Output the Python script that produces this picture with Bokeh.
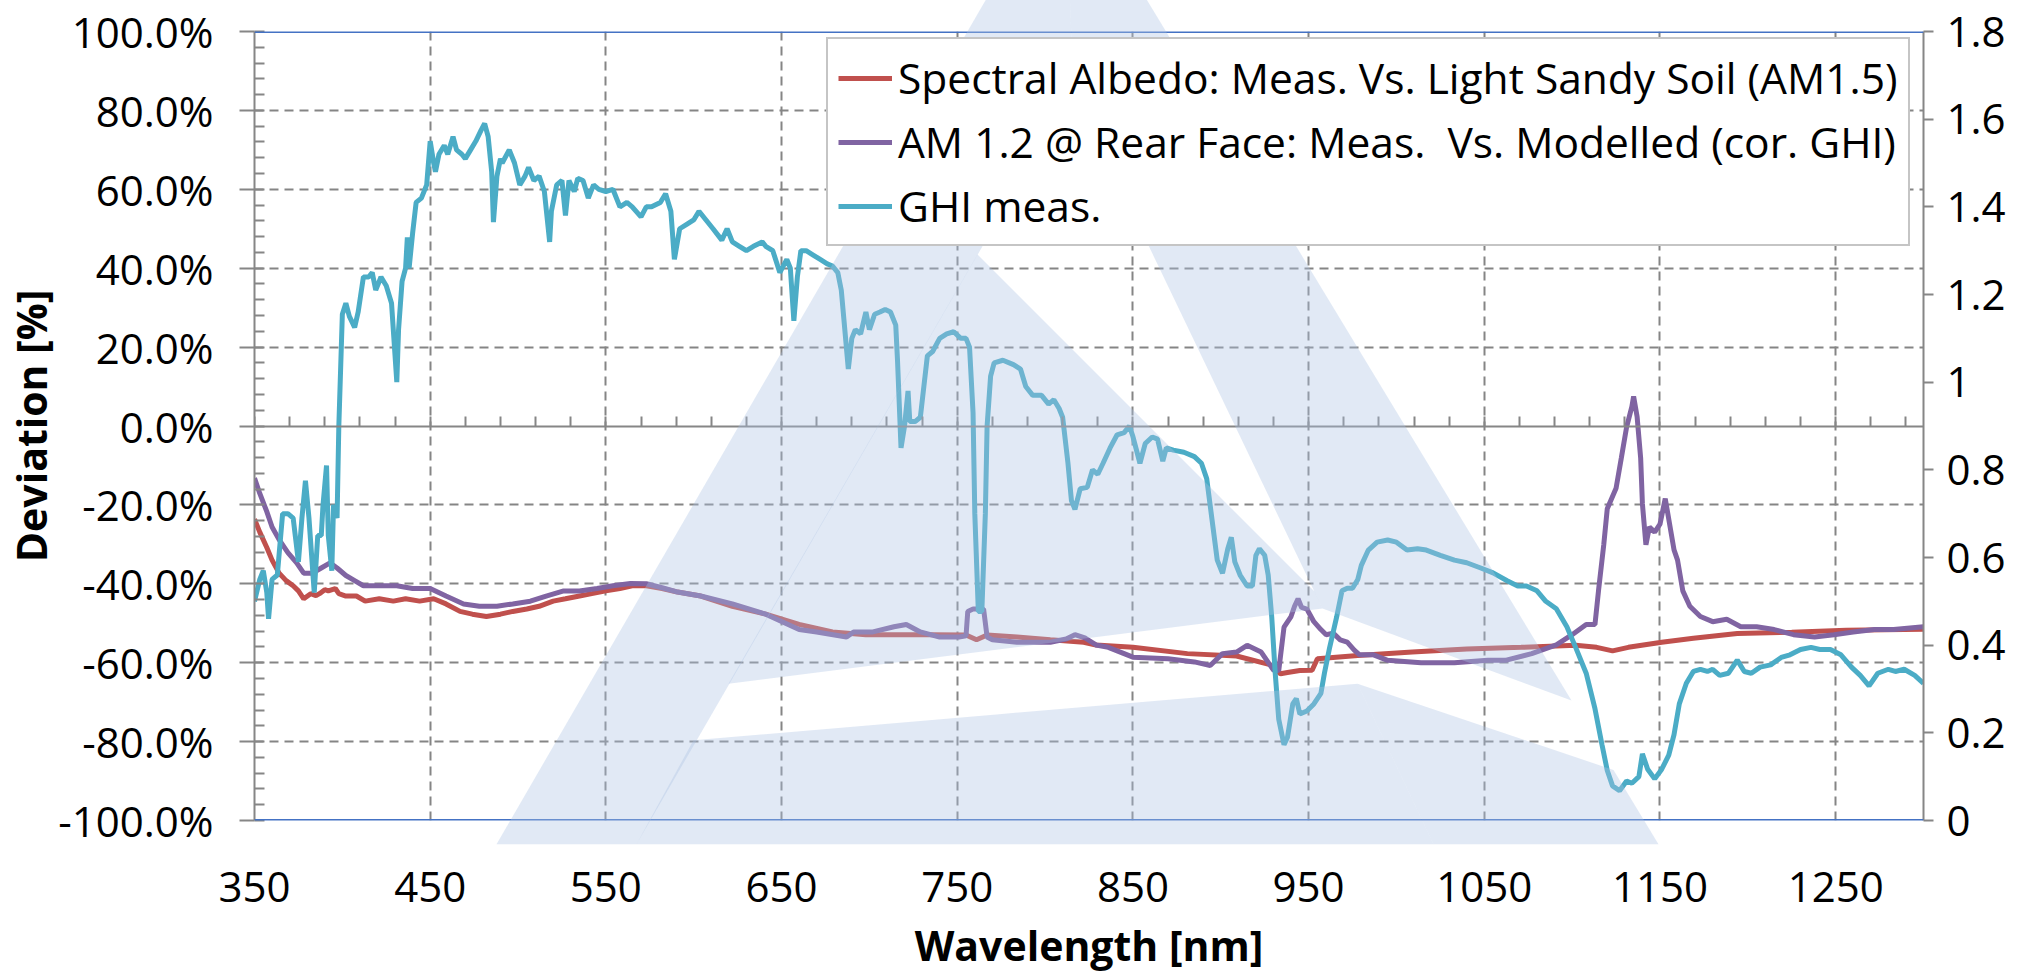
import numpy as np
from bokeh.plotting import figure
from bokeh.models import (Range1d, LinearAxis, FixedTicker, PrintfTickFormatter, CustomJSTickFormatter,
                          Legend, LegendItem, Span, Grid)
from bokeh.embed import file_html
from bokeh.resources import INLINE

# ---------------- data ----------------
x_tick_values = [350, 450, 550, 650, 750, 850, 950, 1050, 1150, 1250]
x_tick_labels = ["350", "450", "550", "650", "750", "850", "950", "1050", "1150", "1250"]
x_minor_values = list(range(350, 1301, 20))
left_tick_values = [-100, -80, -60, -40, -20, 0, 20, 40, 60, 80, 100]
left_minor_values = list(range(-100, 101, 4))
right_tick_values = [0, 0.2, 0.4, 0.6, 0.8, 1.0, 1.2, 1.4, 1.6, 1.8]
right_tick_labels = ["0", "0.2", "0.4", "0.6", "0.8", "1", "1.2", "1.4", "1.6", "1.8"]

series_names = [
    "Spectral Albedo: Meas. Vs. Light Sandy Soil (AM1.5)",
    "AM 1.2 @ Rear Face: Meas.  Vs. Modelled (cor. GHI)",
    "GHI meas.",
]

albedo_nm = [350, 353, 357, 360, 364, 368, 372, 375, 378, 382, 385, 387, 390, 392, 396, 398, 402, 408, 413,
             421, 429, 436, 444, 452, 459, 467, 474, 482, 490, 497, 505, 512, 520, 527, 535, 542, 550, 558,
             565, 573, 582, 590, 604, 622, 641, 660, 679, 698, 717, 736, 755, 761, 767, 784, 803, 822, 829,
             850, 881, 909, 928, 934, 938, 945, 952, 955, 978, 1009, 1040, 1071, 1102, 1114, 1123, 1132,
             1151, 1169, 1194, 1225, 1256, 1300]
albedo_dev = [-23.6, -26.9, -30.8, -34.0, -37.3, -39.2, -40.5, -41.8, -43.8, -42.5, -43.0, -42.5, -41.5, -41.8,
              -41.2, -42.5, -43.1, -43.1, -44.4, -43.8, -44.4, -43.8, -44.4, -43.8, -45.1, -47.0, -47.7, -48.3,
              -47.7, -47.0, -46.4, -45.7, -44.4, -43.8, -43.1, -42.5, -41.8, -41.2, -40.5, -40.5, -41.2, -42.0,
              -43.1, -45.7, -47.7, -50.3, -52.2, -52.9, -52.9, -52.9, -53.0, -54.2, -53.0, -53.5, -54.2, -54.8,
              -55.5, -56.1, -57.7, -58.3, -60.5, -62.8, -62.5, -62.0, -61.9, -59.0, -58.2, -57.3, -56.5, -56.1,
              -55.6, -56.1, -57.0, -56.1, -54.8, -53.8, -52.6, -52.3, -51.8, -51.5]

rear_nm = [350, 353, 357, 360, 364, 369, 374, 378, 383, 388, 393, 397, 402, 407, 412, 421, 431, 440, 450, 459,
           469, 478, 488, 497, 507, 516, 526, 535, 545, 554, 564, 573, 582, 590, 604, 622, 641, 660, 670, 687,
           691, 702, 714, 721, 729, 740, 751, 755, 756, 759, 765, 767, 770, 784, 803, 812, 817, 823, 829, 836,
           850, 870, 885, 894, 901, 909, 915, 923, 930, 933, 936, 940, 942, 944, 946, 949, 953, 957, 960, 964,
           968, 972, 976, 979, 987, 995, 1014, 1033, 1052, 1062, 1077, 1091, 1100, 1108, 1113, 1115, 1118,
           1120, 1125, 1128, 1131, 1134, 1135, 1137, 1139, 1140, 1142, 1144, 1147, 1150, 1153, 1155, 1158,
           1160, 1163, 1167, 1173, 1180, 1188, 1196, 1205, 1215, 1226, 1238, 1249, 1260, 1272, 1283, 1300]
rear_dev = [-13.2, -17.1, -21.7, -25.6, -28.8, -32.1, -34.7, -37.3, -37.3, -36.0, -34.7, -36.0, -37.9, -39.2,
            -40.5, -40.5, -40.5, -41.2, -41.2, -43.1, -45.1, -45.7, -45.7, -45.1, -44.4, -43.1, -41.8, -41.8,
            -41.2, -40.5, -39.9, -40.0, -41.0, -42.0, -43.1, -45.1, -47.7, -51.6, -52.2, -53.5, -52.2, -52.2,
            -50.9, -50.3, -52.2, -53.5, -53.5, -53.2, -47.0, -46.4, -46.4, -53.5, -54.2, -54.8, -54.8, -54.0,
            -52.9, -53.8, -55.5, -56.1, -58.6, -59.0, -59.8, -60.7, -57.7, -57.3, -55.6, -57.3, -61.9, -62.0,
            -51.0, -48.3, -45.7, -43.8, -46.0, -46.4, -49.6, -51.6, -52.9, -52.5, -54.2, -54.8, -56.8, -58.0,
            -58.0, -59.4, -60.0, -60.0, -59.4, -59.4, -57.7, -55.5, -52.9, -50.3, -50.3, -41.8, -30.1, -21.0,
            -15.8, -8.1, -0.3, 4.9, 7.5, 2.3, -8.1, -19.7, -30.1, -25.6, -26.9, -24.9, -18.4, -23.6, -31.4,
            -34.0, -41.8, -45.7, -48.3, -49.6, -49.0, -50.9, -50.9, -51.6, -52.9, -53.5, -52.9, -52.2, -51.6,
            -51.6, -50.9]

ghi_nm = [350, 353, 355, 357, 358, 360, 363, 366, 369, 372, 375, 377, 379, 381, 384, 386, 388, 389, 391, 392,
          394, 395, 397, 398, 400, 402, 404, 407, 409, 412, 415, 417, 419, 422, 425, 428, 431, 432, 434, 436,
          437, 438, 440, 442, 445, 448, 450, 452, 453, 455, 458, 460, 463, 465, 468, 470, 473, 476, 479, 481,
          483, 485, 486, 488, 490, 491, 495, 498, 501, 504, 506, 509, 512, 515, 518, 519, 522, 525, 527, 529,
          532, 534, 537, 540, 543, 546, 550, 554, 558, 562, 565, 570, 573, 576, 581, 584, 587, 589, 592, 596,
          600, 603, 607, 611, 616, 619, 622, 626, 630, 634, 639, 641, 645, 649, 653, 655, 657, 659, 661, 664,
          668, 672, 676, 679, 682, 684, 686, 688, 690, 692, 695, 698, 700, 703, 706, 709, 712, 715, 716, 718,
          720, 722, 723, 726, 729, 731, 733, 736, 740, 744, 748, 752, 755, 757, 759, 760, 762, 764, 766, 767,
          769, 771, 776, 782, 786, 789, 793, 798, 802, 805, 808, 810, 813, 815, 817, 820, 824, 827, 830, 833,
          837, 841, 845, 848, 850, 854, 857, 861, 864, 867, 869, 873, 879, 885, 889, 892, 895, 898, 901, 904,
          906, 908, 911, 915, 918, 920, 922, 925, 927, 929, 931, 933, 936, 938, 941, 943, 945, 949, 953, 957,
          959, 962, 966, 969, 972, 975, 978, 980, 984, 989, 995, 1000, 1006, 1012, 1017, 1025, 1033, 1040,
          1048, 1055, 1063, 1069, 1074, 1080, 1085, 1091, 1097, 1102, 1108, 1113, 1117, 1120, 1123, 1127,
          1131, 1134, 1138, 1140, 1143, 1147, 1151, 1155, 1158, 1161, 1165, 1169, 1173, 1177, 1180, 1184,
          1189, 1194, 1198, 1202, 1207, 1213, 1219, 1224, 1230, 1236, 1241, 1247, 1253, 1259, 1264, 1269,
          1274, 1280, 1284, 1289, 1295, 1300]
ghi_val = [0.50, 0.55, 0.57, 0.52, 0.46, 0.55, 0.56, 0.70, 0.70, 0.69, 0.59, 0.69, 0.775, 0.69, 0.52, 0.65,
           0.65, 0.72, 0.81, 0.65, 0.57, 0.72, 0.69, 0.90, 1.155, 1.18, 1.15, 1.125, 1.16, 1.24, 1.24, 1.25,
           1.21, 1.24, 1.22, 1.18, 1.00, 1.12, 1.23, 1.26, 1.33, 1.26, 1.34, 1.41, 1.42, 1.45, 1.55, 1.50,
           1.48, 1.52, 1.54, 1.52, 1.56, 1.53, 1.52, 1.51, 1.53, 1.55, 1.575, 1.59, 1.56, 1.48, 1.365, 1.47,
           1.51, 1.50, 1.53, 1.50, 1.45, 1.47, 1.49, 1.46, 1.47, 1.435, 1.32, 1.39, 1.45, 1.46, 1.38, 1.46,
           1.435, 1.465, 1.46, 1.42, 1.45, 1.44, 1.435, 1.44, 1.40, 1.41, 1.40, 1.377, 1.40, 1.40, 1.41, 1.43,
           1.39, 1.28, 1.35, 1.36, 1.37, 1.39, 1.37, 1.35, 1.324, 1.35, 1.32, 1.31, 1.30, 1.31, 1.32, 1.31,
           1.30, 1.25, 1.28, 1.26, 1.14, 1.24, 1.30, 1.30, 1.29, 1.28, 1.27, 1.265, 1.25, 1.21, 1.12, 1.03,
           1.10, 1.12, 1.11, 1.16, 1.12, 1.155, 1.16, 1.166, 1.16, 1.13, 1.05, 0.85, 0.90, 0.98, 0.91, 0.91,
           0.92, 0.99, 1.06, 1.07, 1.10, 1.11, 1.115, 1.10, 1.10, 1.08, 0.93, 0.70, 0.477, 0.477, 0.70, 0.90,
           1.014, 1.044, 1.05, 1.04, 1.03, 0.99, 0.97, 0.97, 0.95, 0.96, 0.94, 0.92, 0.816, 0.73, 0.71, 0.757,
           0.76, 0.80, 0.79, 0.815, 0.85, 0.88, 0.885, 0.90, 0.876, 0.815, 0.86, 0.875, 0.87, 0.82, 0.85,
           0.845, 0.84, 0.83, 0.815, 0.78, 0.687, 0.594, 0.564, 0.62, 0.646, 0.59, 0.56, 0.535, 0.535, 0.605,
           0.62, 0.605, 0.56, 0.465, 0.336, 0.231, 0.173, 0.19, 0.266, 0.278, 0.243, 0.25, 0.266, 0.29, 0.336,
           0.395, 0.465, 0.524, 0.53, 0.53, 0.55, 0.582, 0.617, 0.635, 0.64, 0.635, 0.617, 0.62, 0.617, 0.605,
           0.594, 0.588, 0.576, 0.565, 0.547, 0.535, 0.535, 0.524, 0.50, 0.483, 0.442, 0.395, 0.336, 0.255,
           0.173, 0.114, 0.079, 0.068, 0.09, 0.085, 0.10, 0.152, 0.117, 0.095, 0.117, 0.149, 0.196, 0.266,
           0.313, 0.34, 0.345, 0.34, 0.345, 0.331, 0.336, 0.366, 0.34, 0.336, 0.35, 0.355, 0.372, 0.378, 0.39,
           0.395, 0.39, 0.39, 0.378, 0.35, 0.331, 0.307, 0.336, 0.345, 0.34, 0.345, 0.331, 0.313]

# ---------------- styling ----------------
FONT = "Open Sans"
AXIS_GRAY = "#868686"
GRID_GRAY = "#858585"
FRAME_BLUE = "#4472C4"
RED = "#C0504D"
PURPLE = "#8064A2"
CYAN = "#4BACC6"
LABEL_PX = "42px"

FRAME_L, FRAME_T, FRAME_W, FRAME_H = 250, 31, 1669, 789

p = figure(frame_width=FRAME_W, frame_height=FRAME_H, output_backend="svg", toolbar_location=None,
           x_range=Range1d(350, 1300), y_range=Range1d(-100, 100),
           x_axis_location=None, y_axis_location=None,
           min_border_left=FRAME_L, min_border_right=107, min_border_top=FRAME_T, min_border_bottom=40)
p.extra_y_ranges = {"ghi": Range1d(0, 1.8)}
p.outline_line_color = None
p.background_fill_color = "white"
p.border_fill_color = "white"
for g in p.grid:
    g.visible = False


def lookup_formatter(vals, labs):
    return CustomJSTickFormatter(args=dict(vals=vals, labs=labs),
                                 code="const i = vals.findIndex(v => Math.abs(v - tick) < 1e-6);"
                                      "return i >= 0 ? labs[i] : '';")


# dashed gridlines
p.add_layout(Grid(dimension=0, ticker=FixedTicker(ticks=x_tick_values[1:]),
                  grid_line_color=GRID_GRAY, grid_line_width=2, grid_line_dash="9 6"), "center")
p.add_layout(Grid(dimension=1, ticker=FixedTicker(ticks=[t for t in left_tick_values if t not in (-100, 0, 100)]),
                  grid_line_color=GRID_GRAY, grid_line_width=2, grid_line_dash="9 6"), "center")

# left axis (deviation, %)
yl = LinearAxis(ticker=FixedTicker(ticks=left_tick_values, minor_ticks=left_minor_values),
                formatter=PrintfTickFormatter(format="%.1f%%"), axis_label="Deviation [%]")
yl.axis_line_color = AXIS_GRAY
yl.axis_line_width = 2
yl.major_tick_line_color = AXIS_GRAY
yl.major_tick_line_width = 2
yl.major_tick_out = 15
yl.major_tick_in = 0
yl.minor_tick_line_color = AXIS_GRAY
yl.minor_tick_line_width = 2
yl.minor_tick_in = 10
yl.minor_tick_out = 0
yl.major_label_text_font = FONT
yl.major_label_text_font_size = LABEL_PX
yl.major_label_text_color = "black"
yl.major_label_standoff = 26
yl.axis_label_text_font = FONT
yl.axis_label_text_font_style = "bold"
yl.axis_label_text_font_size = "41px"
yl.axis_label_text_color = "black"
yl.axis_label_standoff = -4
p.add_layout(yl, "left")

# right axis (GHI)
yr = LinearAxis(y_range_name="ghi", ticker=FixedTicker(ticks=right_tick_values),
                formatter=lookup_formatter(right_tick_values, right_tick_labels))
yr.axis_line_color = AXIS_GRAY
yr.axis_line_width = 2
yr.major_tick_line_color = AXIS_GRAY
yr.major_tick_line_width = 2
yr.major_tick_out = 10
yr.major_tick_in = 0
yr.minor_tick_line_color = None
yr.major_label_text_font = FONT
yr.major_label_text_font_size = LABEL_PX
yr.major_label_text_color = "black"
yr.major_label_standoff = 13
p.add_layout(yr, "right")

# bottom axis: labels + title only
xb = LinearAxis(ticker=FixedTicker(ticks=x_tick_values),
                formatter=lookup_formatter(x_tick_values, x_tick_labels), axis_label="Wavelength [nm]")
xb.axis_line_color = None
xb.major_tick_line_color = None
xb.minor_tick_line_color = None
xb.major_tick_out = 0
xb.major_tick_in = 0
xb.minor_tick_out = 0
xb.minor_tick_in = 0
xb.major_label_text_font = FONT
xb.major_label_text_font_size = LABEL_PX
xb.major_label_text_color = "black"
xb.major_label_standoff = 51
xb.axis_label_text_font = FONT
xb.axis_label_text_font_style = "bold"
xb.axis_label_text_font_size = "41px"
xb.axis_label_text_color = "black"
xb.axis_label_standoff = 12
p.add_layout(xb, "below")

# category axis line crossing at 0 % with upward minor ticks
xz = LinearAxis(fixed_location=0, ticker=FixedTicker(ticks=x_tick_values, minor_ticks=x_minor_values),
                formatter=CustomJSTickFormatter(code="return '';"))
xz.axis_line_color = AXIS_GRAY
xz.axis_line_width = 2
xz.major_tick_line_color = None
xz.major_tick_out = 0
xz.major_tick_in = 0
xz.minor_tick_line_color = AXIS_GRAY
xz.minor_tick_line_width = 2
xz.minor_tick_out = 10
xz.minor_tick_in = 0
xz.major_label_standoff = 0
p.add_layout(xz, "above")

# blue top / bottom frame lines
p.add_layout(Span(location=100, dimension="width", line_color=FRAME_BLUE, line_width=3))
p.add_layout(Span(location=-100, dimension="width", line_color=FRAME_BLUE, line_width=3))

# series
r1 = p.line(albedo_nm, albedo_dev, line_color=RED, line_width=5)
r2 = p.line(rear_nm, rear_dev, line_color=PURPLE, line_width=5)
r3 = p.line(ghi_nm, ghi_val, line_color=CYAN, line_width=5, y_range_name="ghi")

legend = Legend(items=[LegendItem(label=series_names[0], renderers=[r1]),
                       LegendItem(label=series_names[1], renderers=[r2]),
                       LegendItem(label=series_names[2], renderers=[r3])],
                location=(572, 574))
legend.margin = 0
legend.padding = 10
legend.spacing = 7
legend.glyph_width = 54
legend.glyph_height = 40
legend.label_standoff = 6
legend.label_text_font = FONT
legend.label_text_font_size = "42.5px"
legend.label_text_color = "black"
legend.border_line_color = "#8c8c8c"
legend.border_line_width = 2
legend.background_fill_color = "white"
legend.background_fill_alpha = 1.0
p.add_layout(legend)


# faint logo watermark (decoration): outline given in reference-image pixels, mapped to data space
def px2data(px, py):
    return 350 + (px - 258) / 1669 * 950, 100 - (py - 25) / 796 * 200


logo_px = [
    [(1068, -144), (500, 845), (640, 845), (1077, 83)],                 # left leg
    [(1068, -144), (1077, 83), (1326, 607), (1575, 700)],               # right leg, upper
    [(1361, 683), (1437, 845), (1662, 845), (1617, 770)],               # right leg, lower
    [(981, 250), (1318, 590), (1326, 607), (732, 683)],                 # upper swoosh
    [(640, 845), (697, 740), (1000, 714), (1361, 683), (1437, 845)],    # lower swoosh
]
wm_xs, wm_ys = [], []
for poly in logo_px:
    pts = [px2data(*q) for q in poly]
    wm_xs.append([[[q[0] for q in pts]]])
    wm_ys.append([[[q[1] for q in pts]]])
wm = p.multi_polygons(xs=wm_xs, ys=wm_ys, fill_color="#ACC2E3", fill_alpha=0.36, line_color=None)
wm.level = "overlay"

open("out.html", "w").write(file_html(p, INLINE))
